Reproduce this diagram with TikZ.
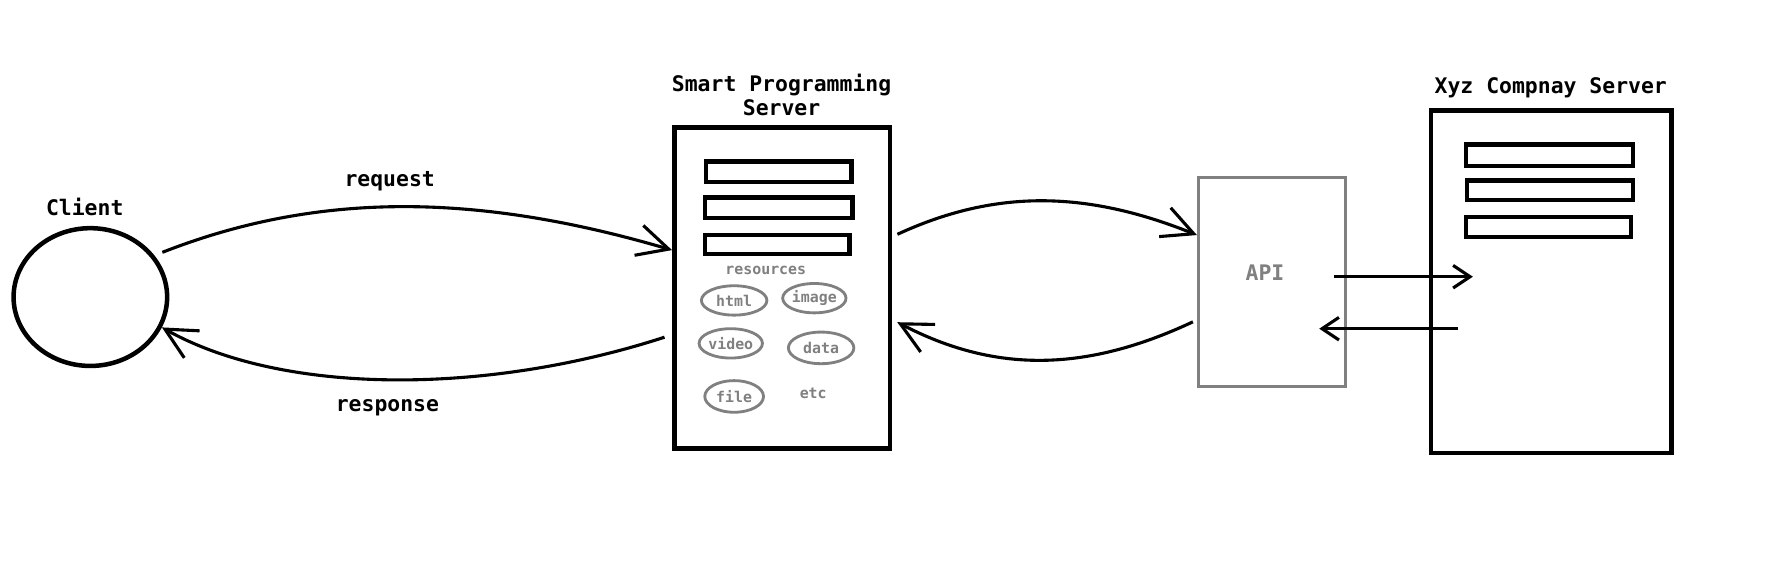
\documentclass[tikz,border=0pt]{standalone}
\usepackage{fontspec}
\setmonofont{DejaVu Sans Mono}
\usetikzlibrary{arrows.meta,shapes.geometric}

\tikzset{
  lbl/.style={font=\ttfamily\bfseries\fontsize{10.8}{12.5}\selectfont},
  small/.style={font=\ttfamily\bfseries\fontsize{7.5}{9}\selectfont, text=gray},
  server/.style={draw, line width=0.08cm, inner sep=0pt},
  bar/.style={draw, line width=0.08cm},
  res/.style={small, ellipse, draw=gray, line width=0.05cm, inner sep=0pt},
  link/.style={line width=0.055cm, -{Straight Barb[length=0.55cm,width=0.55cm]}},
  call/.style={line width=0.055cm, -{Straight Barb[length=0.3cm,width=0.4cm]}}
}

\begin{document}
\begin{tikzpicture}[x=0.02cm, y=-0.02cm]
        \path[fill=white, use as bounding box] (0,0) rectangle (1568,518);

        % client
        \node[ellipse, draw, line width=0.08cm, minimum width=2.72cm, minimum height=2.44cm, inner sep=0pt] (client) at (80,263) {};
        \node[lbl] (clientlbl) at (75,183) {Client};

        % smart programming server
        \node[server, minimum width=3.82cm, minimum height=5.68cm] (smart) at (692.5,255) {};
        \node[lbl, align=center] (smartlbl) at (692,84) {Smart Programming\\Server};
        \draw[bar] (625,143) rectangle (754,161);
        \draw[bar] (624,175) rectangle (755,193);
        \draw[bar] (624,208) rectangle (752,225);
        \node[small] (reslbl) at (678,239) {resources};
        \node[res, minimum width=1.16cm, minimum height=0.52cm] (html) at (650,266) {html};
        \node[res, minimum width=1.04cm, minimum height=0.52cm] (image) at (721,264) {image};
        \node[res, minimum width=1.08cm, minimum height=0.52cm] (video) at (647,304) {video};
        \node[res, minimum width=1.16cm, minimum height=0.56cm] (data) at (727,308) {data};
        \node[res, minimum width=1.04cm, minimum height=0.56cm] (file) at (650,351) {file};
        \node[small] (etc) at (720,348) {etc};

        % api
        \node[draw=gray, line width=0.05cm, minimum width=2.6cm, minimum height=3.7cm] (api) at (1126,249.5) {};
        \node[lbl, text=gray] (apilbl) at (1120,241) {API};

        % xyz company server
        \node[server, minimum width=4.26cm, minimum height=6.06cm] (xyz) at (1373.5,249.5) {};
        \node[lbl] (xyzlbl) at (1373,78) {Xyz Compnay Server};
        \draw[bar] (1298,128) rectangle (1446,147);
        \draw[bar] (1299,160) rectangle (1446,177);
        \draw[bar] (1298,192) rectangle (1444,210);

        % request / response
        \draw[link, shorten <=0.15cm] (client.33) .. controls (280,170) and (420,170) .. (smart.161);
        \node[lbl] (reqlbl) at (345,160) {request};
        \draw[link, shorten <=0.14cm] (smart.203) .. controls (430,350) and (250,350) .. (client.-23);
        \node[lbl] (resplbl) at (343,361) {response};

        \draw[link, shorten <=0.1cm] (smart.25) .. controls (880,168) and (960,168) .. (api.148);
        \draw[link, shorten <=0.08cm, shorten >=0.1cm] (api.207) .. controls (960,330) and (880,330) .. (smart.-16);

        \coordinate (apiout) at (1181,245);
        \coordinate (xyzin) at (1304,245);
        \coordinate (xyzout) at (1291,291);
        \coordinate (apiin) at (1168,291);
        \draw[call] (apiout) -- (xyzin);
        \draw[call] (xyzout) -- (apiin);
\end{tikzpicture}
\end{document}
